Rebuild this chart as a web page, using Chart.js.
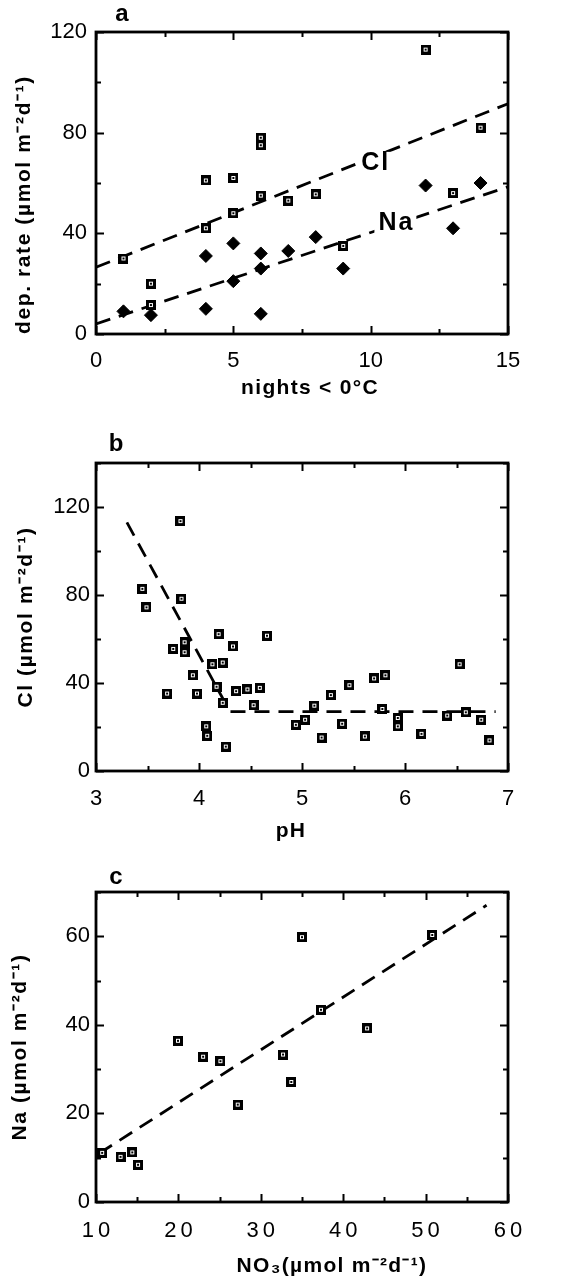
<!DOCTYPE html>
<html>
<head>
<meta charset="utf-8">
<script src="https://cdn.jsdelivr.net/npm/chart.js@4.4.1/dist/chart.umd.min.js"></script>
<style>
  html, body { margin: 0; padding: 0; background: #fff; }
  body { width: 562px; height: 1287px; position: relative; overflow: hidden; }
  canvas { position: absolute; left: 0; }
  #ca { top: 0; }
  #cb { top: 405px; }
  #cc { top: 845px; }
</style>
</head>
<body>
<canvas id="ca" width="562" height="410"></canvas>
<canvas id="cb" width="562" height="445"></canvas>
<canvas id="cc" width="562" height="442"></canvas>
<script>
// ---------- Panel a: deposition rate vs nights below 0 °C ----------
const nightsCl = [1, 2, 2, 4, 4, 5, 5, 6, 6, 6, 7, 8, 9, 12, 13, 14];
const rateCl   = [30, 20, 11.5, 61, 42, 62, 48, 78, 75, 55, 53, 55.5, 35, 113, 56, 82];
const nightsNa = [1, 2, 4, 4, 5, 5, 6, 6, 6, 7, 8, 9, 12, 13, 14];
const rateNa   = [9, 7.5, 31, 10, 36, 21, 32, 26, 8, 33, 38.5, 26, 59, 42, 60];
const fitNights = [0, 15];
const fitCl     = [26.5, 91.5];
const fitNa     = [4, 58.5];
const ticksNights = [0, 5, 10, 15];
const minorNights = [2.5, 7.5, 12.5];
const ticksRateA  = [0, 40, 80, 120];
const minorRateA  = [20, 60, 100];

// ---------- Panel b: Cl vs pH ----------
const phValues = [3.45, 3.49, 3.82, 3.83, 3.75, 3.86, 3.86, 3.69, 3.94, 3.98,
                  4.07, 4.08, 4.13, 4.17, 4.19, 4.23, 4.23, 4.26, 4.33, 4.36,
                  4.47, 4.53, 4.59, 4.66, 4.94, 5.03, 5.12, 5.19, 5.28, 5.39,
                  5.46, 5.61, 5.70, 5.78, 5.81, 5.93, 5.93, 6.16, 6.41, 6.53,
                  6.59, 6.74, 6.82];
const clByPh   = [82.8, 74.4, 113.6, 78.3, 55.5, 58.5, 54, 35.2, 43.5, 35.2,
                  20.3, 16, 48.5, 38.3, 62.2, 49.3, 31, 11.1, 56.6, 36.3,
                  37.1, 29.9, 37.8, 61.5, 21, 23.3, 29.7, 15.2, 34.5, 21.5,
                  39, 15.7, 42.1, 28.2, 43.5, 24.1, 20.3, 16.9, 25.2, 48.5,
                  26.7, 23.3, 13.9];
const fitPh   = [3.3, 4.3, 6.88];
const fitClPh = [113, 27, 27];
const ticksPh  = [3, 4, 5, 6, 7];
const minorPh  = [3.5, 4.5, 5.5, 6.5];
const ticksClB = [0, 40, 80, 120];
const minorClB = [20, 60, 100, 140];

// ---------- Panel c: Na vs NO3 ----------
const no3Values = [10.75, 12.98, 14.4, 15.1, 19.95, 23.0, 25.1, 27.2, 32.7, 33.7, 35.0, 37.3, 42.9, 50.8];
const naByNo3   = [11.1, 10.2, 11.2, 8.4, 36.4, 32.8, 31.8, 22, 33.3, 27.1, 59.8, 43.4, 39.2, 60.3];
const fitNo3    = [10.4, 57.4];
const fitNaNo3  = [11, 67];
const ticksNo3  = [10, 20, 30, 40, 50, 60];
const minorNo3  = [15, 25, 35, 45, 55];
const ticksNaC  = [0, 20, 40, 60];
const minorNaC  = [10, 30, 50, 70];

// ---------- helpers ----------
Chart.defaults.font.family = "'Liberation Sans', Arial, Helvetica, sans-serif";
Chart.defaults.color = '#000';

const pts = (xs, ys) => xs.map((x, i) => ({ x: x, y: ys[i] }));

function squareMarker() {
  const c = document.createElement('canvas');
  c.width = 10; c.height = 10;
  const g = c.getContext('2d');
  g.fillStyle = '#000';
  g.fillRect(0, 0, 10, 10);
  g.strokeStyle = '#fff';
  g.lineWidth = 1;
  g.strokeRect(3.5, 3.5, 3, 3);
  return c;
}
const SQ = squareMarker();

const frameTicks = {
  id: 'frameTicks',
  afterDatasetsDraw(chart, args, o) {
    const { ctx, chartArea: a, scales: { x, y } } = chart;
    ctx.save();
    ctx.strokeStyle = '#000';
    ctx.lineWidth = 2;
    const dx = (vals, len) => vals.forEach(v => {
      const p = Math.round(x.getPixelForValue(v)) + 0.5;
      ctx.beginPath();
      ctx.moveTo(p, a.bottom); ctx.lineTo(p, a.bottom - len);
      ctx.moveTo(p, a.top); ctx.lineTo(p, a.top + len);
      ctx.stroke();
    });
    const dy = (vals, len) => vals.forEach(v => {
      const p = Math.round(y.getPixelForValue(v)) + 0.5;
      ctx.beginPath();
      ctx.moveTo(a.left, p); ctx.lineTo(a.left + len, p);
      ctx.moveTo(a.right, p); ctx.lineTo(a.right - len, p);
      ctx.stroke();
    });
    dx(x.ticks.map(t => t.value), 8);
    dx(o.xMinor || [], 5);
    dy(y.ticks.map(t => t.value), 8);
    dy(o.yMinor || [], 5);
    ctx.lineWidth = 2.8;
    ctx.strokeRect(a.left, a.top, a.right - a.left, a.bottom - a.top);
    ctx.restore();
  }
};

const panelLabel = {
  id: 'panelLabel',
  afterDraw(chart, args, o) {
    if (!o.text) return;
    const { ctx, chartArea: a } = chart;
    ctx.save();
    ctx.fillStyle = '#000';
    ctx.font = "bold 24px 'Liberation Sans', Arial, sans-serif";
    ctx.textAlign = 'center';
    ctx.textBaseline = 'middle';
    ctx.fillText(o.text, a.left + o.dx, a.top + o.dy);
    ctx.restore();
  }
};

const lineLabels = {
  id: 'lineLabels',
  afterDatasetsDraw(chart, args, o) {
    if (!o.items) return;
    const { ctx, scales: { x, y } } = chart;
    ctx.save();
    ctx.font = "bold 25px 'Liberation Sans', Arial, sans-serif";
    if ('letterSpacing' in ctx) ctx.letterSpacing = '2px';
    ctx.textAlign = 'center';
    ctx.textBaseline = 'middle';
    o.items.forEach(it => {
      const px = x.getPixelForValue(it.x), py = y.getPixelForValue(it.y);
      const w = ctx.measureText(it.text).width;
      ctx.fillStyle = '#fff';
      ctx.fillRect(px - w / 2 - 3, py - 11, w + 6, 22);
      ctx.fillStyle = '#000';
      ctx.fillText(it.text, px + 1, py);
    });
    ctx.restore();
  }
};

// letter-spacing / offset tweaks for scale titles and labels
const textStyle = {
  id: 'textStyle',
  beforeDraw(chart, args, o) {
    Object.keys(o.scales || {}).forEach(id => {
      const sc = chart.scales[id];
      const s = o.scales[id];
      if (!sc || sc._tsPatched) return;
      sc._tsPatched = true;
      const wrap = (name, st) => {
        if (!st) return;
        const orig = sc[name];
        sc[name] = function (...r) {
          const c = this.ctx;
          c.save();
          c.translate(st.dx || 0, st.dy || 0);
          if ('letterSpacing' in c) c.letterSpacing = (st.ls || 0) + 'px';
          orig.apply(this, r);
          c.restore();
        };
      };
      wrap('drawTitle', s.title);
      wrap('drawLabels', s.labels);
    });
  }
};

function baseOptions(p) {
  return {
    responsive: false,
    animation: false,
    events: [],
    layout: { padding: { top: p.padTop, right: 54, bottom: 0, left: 0 } },
    plugins: {
      legend: { display: false },
      tooltip: { enabled: false },
      frameTicks: { xMinor: p.xMinor, yMinor: p.yMinor },
      panelLabel: p.label,
      lineLabels: p.lineLabels || {},
      textStyle: p.textStyle || {}
    },
    scales: {
      x: {
        type: 'linear', position: 'bottom', min: p.xMin, max: p.xMax,
        afterBuildTicks: s => { s.ticks = p.xTicks.map(v => ({ value: v })); },
        afterFit: s => { s.height = p.xAxisH; },
        grid: { display: false, drawTicks: false },
        border: { display: false },
        ticks: { autoSkip: false, maxRotation: 0, padding: p.xTickPad, font: { size: 22 }, color: '#000' },
        title: { display: true, text: p.xTitle, color: '#000', font: { size: 21, weight: 'bold' },
                 padding: { top: 0, bottom: p.xTitlePad } }
      },
      y: {
        type: 'linear', position: 'left', min: p.yMin, max: p.yMax,
        afterBuildTicks: s => { s.ticks = p.yTicks.map(v => ({ value: v })); },
        afterFit: s => { s.width = 96; },
        grid: { display: false, drawTicks: false },
        border: { display: false },
        ticks: { autoSkip: false, padding: p.yTickPad, font: { size: 22 }, color: '#000' },
        title: { display: true, text: p.yTitle, color: '#000', align: p.yTitleAlign || 'center',
                 font: { size: 21, weight: 'bold' }, padding: { top: p.yTitlePad, bottom: 0 } }
      }
    }
  };
}

const dashed = (data) => ({
  data: data, showLine: true, pointRadius: 0, borderColor: '#000', borderWidth: 2.8,
  borderDash: [15, 9], fill: false, order: 2, tension: 0
});

const plugins = [frameTicks, panelLabel, lineLabels, textStyle];

// ---------- Chart a ----------
new Chart(document.getElementById('ca'), {
  type: 'scatter',
  data: {
    datasets: [
      { label: 'Cl', data: pts(nightsCl, rateCl), pointStyle: SQ, pointRadius: 5, order: 1 },
      { label: 'Na', data: pts(nightsNa, rateNa), pointStyle: 'rectRot', pointRadius: 6.5,
        backgroundColor: '#000', borderColor: '#000', borderWidth: 1, order: 1 },
      Object.assign(dashed(pts(fitNights, fitCl)), { label: 'Cl fit' }),
      Object.assign(dashed(pts(fitNights, fitNa)), { label: 'Na fit' })
    ]
  },
  options: baseOptions({
    padTop: 32, xAxisH: 76, xMin: 0, xMax: 15, yMin: 0, yMax: 120,
    xTicks: ticksNights, yTicks: ticksRateA, xMinor: minorNights, yMinor: minorRateA,
    xTickPad: 14, yTickPad: 9, xTitlePad: 9, yTitlePad: 12, yTitleAlign: 'start',
    xTitle: 'nights < 0°C', yTitle: 'dep. rate (µmol m⁻²d⁻¹)',
    label: { text: 'a', dx: 26, dy: -18 },
    lineLabels: { items: [{ text: 'Cl', x: 10.15, y: 68 }, { text: 'Na', x: 10.9, y: 44 }] },
    textStyle: { scales: { x: { title: { ls: 1.3, dx: 8 } }, y: { title: { ls: 1.6 } } } }
  }),
  plugins: plugins
});

// ---------- Chart b ----------
new Chart(document.getElementById('cb'), {
  type: 'scatter',
  data: {
    datasets: [
      { label: 'Cl', data: pts(phValues, clByPh), pointStyle: SQ, pointRadius: 5, order: 1 },
      Object.assign(dashed(pts(fitPh, fitClPh)), { label: 'fit' })
    ]
  },
  options: baseOptions({
    padTop: 58, xAxisH: 79, xMin: 3, xMax: 7, yMin: 0, yMax: 140,
    xTicks: ticksPh, yTicks: ticksClB, xMinor: minorPh, yMinor: minorClB,
    xTickPad: 15, yTickPad: 6, xTitlePad: 6.5, yTitlePad: 14,
    xTitle: 'pH', yTitle: 'Cl (µmol m⁻²d⁻¹)',
    label: { text: 'b', dx: 20, dy: -19 },
    textStyle: { scales: { x: { title: { ls: 1.3, dx: -11 } }, y: { title: { ls: 1.6 } } } }
  }),
  plugins: plugins
});

// ---------- Chart c ----------
new Chart(document.getElementById('cc'), {
  type: 'scatter',
  data: {
    datasets: [
      { label: 'Na', data: pts(no3Values, naByNo3), pointStyle: SQ, pointRadius: 5, order: 1 },
      Object.assign(dashed(pts(fitNo3, fitNaNo3)), { label: 'fit' })
    ]
  },
  options: baseOptions({
    padTop: 47, xAxisH: 85, xMin: 10, xMax: 60, yMin: 0, yMax: 70,
    xTicks: ticksNo3, yTicks: ticksNaC, xMinor: minorNo3, yMinor: minorNaC,
    xTickPad: 16, yTickPad: 6, xTitlePad: 8.5, yTitlePad: 8,
    xTitle: 'NO₃(µmol m⁻²d⁻¹)', yTitle: 'Na (µmol m⁻²d⁻¹)',
    label: { text: 'c', dx: 20, dy: -15 },
    textStyle: { scales: { x: { title: { ls: 1.3, dx: 30 }, labels: { ls: 4, dx: 2 } }, y: { title: { ls: 1.6 } } } }
  }),
  plugins: plugins
});
</script>
</body>
</html>
